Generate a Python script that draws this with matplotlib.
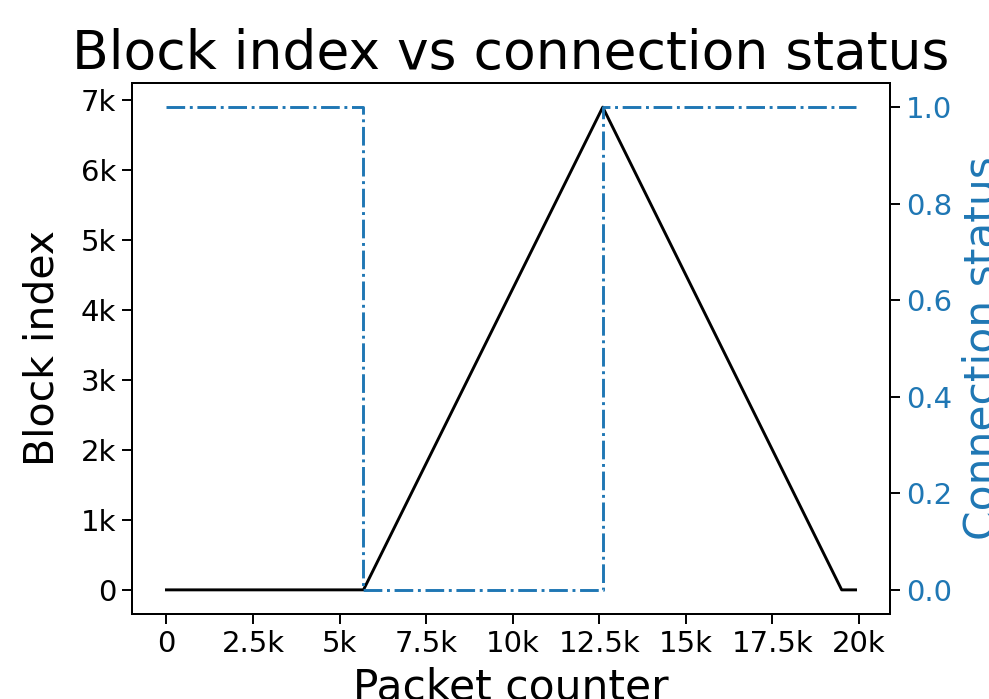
import matplotlib
matplotlib.use('Agg')
import matplotlib.pyplot as plt
from matplotlib.ticker import FuncFormatter, MultipleLocator

# packet counter breakpoints for block index and connection status
packet_x = [0, 5690, 12600, 19500, 19900]
block_idx = [0, 0, 6900, 0, 0]
status_x = [0, 5690, 12600, 19900]
status = [1, 0, 1, 1]


def kfmt(v, pos):
    if v == 0:
        return '0'
    s = '%g' % (v / 1000.0)
    return s + 'k'


plt.rcParams['axes.linewidth'] = 1.4
plt.rcParams['xtick.major.width'] = 1.4
plt.rcParams['ytick.major.width'] = 1.4
plt.rcParams['xtick.major.size'] = 7
plt.rcParams['ytick.major.size'] = 7

fig = plt.figure(figsize=(9.89, 6.99), dpi=100)
ax = fig.add_axes([132 / 989, 1 - 614 / 699, 758 / 989, 531 / 699])

ax.plot(packet_x, block_idx, color='black', linewidth=2.1)
ax.set_xlabel('Packet counter', fontsize=30.5, labelpad=6)
ax.set_ylabel('Block index', fontsize=29.5, labelpad=13)
ax.set_title('Block index vs connection status', fontsize=38.5, pad=10)
ax.xaxis.set_major_locator(MultipleLocator(2500))
ax.yaxis.set_major_locator(MultipleLocator(1000))
ax.xaxis.set_major_formatter(FuncFormatter(kfmt))
ax.yaxis.set_major_formatter(FuncFormatter(kfmt))
ax.tick_params(labelsize=21, pad=4.5)

ax2 = ax.twinx()
ax2.plot(status_x, status, color='tab:blue', linestyle='-.', linewidth=2.1,
         drawstyle='steps-post')
ax2.set_ylabel('Connection status', fontsize=30.5, color='tab:blue', labelpad=7)
ax2.tick_params(axis='y', labelsize=21, labelcolor='tab:blue', pad=4.5)

fig.savefig('out.png', dpi=100)
